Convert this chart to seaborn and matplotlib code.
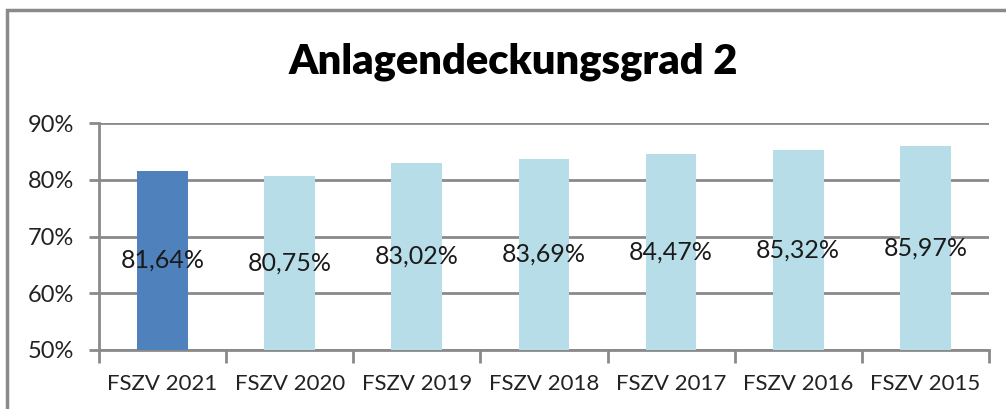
import matplotlib
matplotlib.use("Agg")
import matplotlib.pyplot as plt
import seaborn as sns
import pandas as pd
import numpy as np
from matplotlib.patches import Rectangle
from matplotlib.ticker import FixedLocator, PercentFormatter

categories = ["FSZV 2021", "FSZV 2020", "FSZV 2019", "FSZV 2018", "FSZV 2017", "FSZV 2016", "FSZV 2015"]
values = [81.64, 80.75, 83.02, 83.69, 84.47, 85.32, 85.97]
labels = ["81,64%", "80,75%", "83,02%", "83,69%", "84,47%", "85,32%", "85,97%"]
colors = ["#4F81BD"] + ["#B7DDE8"] * 6

sns.set_theme(style="white")
plt.rcParams['font.family'] = ['Lato', 'DejaVu Sans']

df = pd.DataFrame({"cat": categories, "val": values})
fig = plt.figure(figsize=(10.06, 4.09), dpi=100)
ax = fig.add_axes([0.0984, 0.1443, 0.8846, 0.5547])

sns.barplot(data=df, x="cat", y="val", hue="cat", palette=colors, legend=False,
            width=0.4, ax=ax, saturation=1, zorder=3, linewidth=0)

ymin = 50
ax.set_ylim(ymin, 90)
ax.set_xlim(-0.5, len(categories) - 0.5)
ax.set_yticks([50, 60, 70, 80, 90])
ax.yaxis.set_major_formatter(PercentFormatter(decimals=0))
ax.grid(axis="y", color="#8a8a8a", linewidth=2, zorder=0)
ax.set_axisbelow(True)
for s in ["top", "right"]:
    ax.spines[s].set_visible(False)
for s in ["left", "bottom"]:
    ax.spines[s].set_color("#8a8a8a")
    ax.spines[s].set_linewidth(2)

ax.set_xlabel("")
ax.set_ylabel("")
ax.tick_params(axis="y", length=7, width=2, color="#8a8a8a", direction="out",
               labelsize=17, labelcolor="#222222", pad=11, left=True)
ax.tick_params(axis="x", which="major", length=0, labelsize=16, labelcolor="#222222", pad=17)
ax.xaxis.set_minor_locator(FixedLocator(np.arange(-0.5, len(categories), 1.0)))
ax.tick_params(axis="x", which="minor", length=9, width=2, color="#8a8a8a", direction="out", bottom=True)

for i, (v, lab) in enumerate(zip(values, labels)):
    ax.text(i, (ymin + v) / 2, lab, ha="center", va="center", fontsize=18,
            color="#1a1a1a", zorder=5)

fig.text(0.51, 0.848, "Anlagendeckungsgrad 2", ha="center", va="center",
         fontsize=30, fontweight="heavy",
         family=['Lato', 'DejaVu Sans'], color="black")

fig.patches.append(Rectangle((7 / 1006, -0.1), 1.2, 1 - 10 / 409 + 0.1,
                             transform=fig.transFigure, fill=False,
                             edgecolor="#8a8a8a", linewidth=2.5))

fig.savefig("out.png", dpi=100)
